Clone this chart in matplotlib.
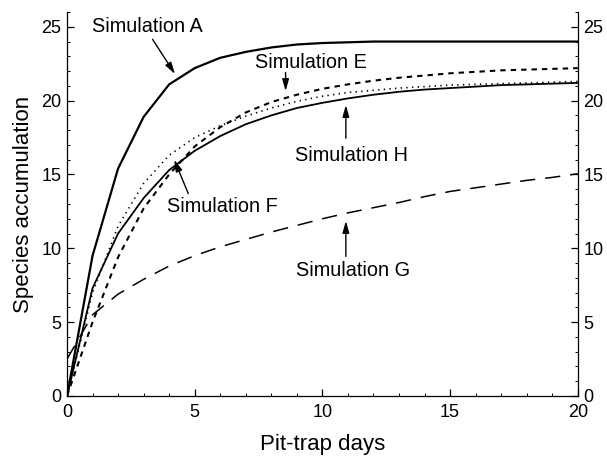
import numpy as np
import matplotlib
matplotlib.use("Agg")
import matplotlib.pyplot as plt
from matplotlib.ticker import MultipleLocator

## Data
days = list(range(0, 21))

sim_a = [0, 9.5, 15.4, 18.9, 21.1, 22.2, 22.9, 23.3, 23.6, 23.8, 23.9,
         23.95, 24.0, 24.0, 24.0, 24.0, 24.0, 24.0, 24.0, 24.0, 24.0]
sim_e = [0, 5.0, 9.4, 12.7, 15.0, 16.9, 18.2, 19.2, 19.9, 20.4, 20.8,
         21.1, 21.35, 21.55, 21.7, 21.85, 21.95, 22.05, 22.1, 22.15, 22.2]
sim_f = [0, 7.0, 11.5, 14.4, 16.3, 17.5, 18.3, 18.95, 19.5, 19.95, 20.3,
         20.55, 20.7, 20.85, 20.95, 21.05, 21.1, 21.15, 21.2, 21.25, 21.3]
sim_h = [0, 7.3, 11.0, 13.4, 15.3, 16.6, 17.6, 18.4, 19.0, 19.5, 19.85,
         20.15, 20.4, 20.6, 20.75, 20.85, 20.95, 21.05, 21.1, 21.15, 21.2]
sim_g = [2.5, 5.5, 6.9, 7.9, 8.8, 9.5, 10.1, 10.6, 11.1, 11.55, 12.0,
         12.4, 12.75, 13.1, 13.5, 13.85, 14.1, 14.35, 14.6, 14.8, 15.05]

# label text, text position, arrow tail, arrow tip (data coords)
labels = ["Simulation A", "Simulation E", "Simulation H", "Simulation F", "Simulation G"]
label_xy = [(3.15, 25.05), (9.55, 22.6), (11.15, 16.3), (6.1, 12.85), (11.2, 8.5)]
arrow_tail = [(3.35, 24.15), (8.56, 21.9), (10.92, 17.45), (4.75, 13.7), (10.92, 9.45)]
arrow_tip = [(4.23, 21.8), (8.56, 20.65), (10.92, 19.7), (4.2, 16.0), (10.92, 11.85)]

plt.rcParams['font.family'] = ['Liberation Sans', 'DejaVu Sans']

fig = plt.figure(figsize=(6.07, 4.57), dpi=100)
ax = fig.add_axes([0.1104, 0.1335, 0.8414, 0.8402])

ax.plot(days, sim_a, color="black", lw=1.6)
ax.plot(days, sim_h, color="black", lw=1.3)
ax.plot(days, sim_e, color="black", lw=1.5, dashes=(2.6, 2.4))
ax.plot(days, sim_f, color="black", lw=1.2, linestyle=(0, (0.8, 2.6)))
ax.plot(days, sim_g, color="black", lw=1.1, dashes=(10, 6.5))

for txt, xy, tail, tip in zip(labels, label_xy, arrow_tail, arrow_tip):
    ax.text(xy[0], xy[1], txt, ha="center", va="center", fontsize=14.3)
    ax.annotate("", xy=tip, xytext=tail,
                arrowprops=dict(arrowstyle="-|>,head_length=0.7,head_width=0.2",
                                color="black", lw=1.0, shrinkA=0, shrinkB=0))

ax.set_xlim(0, 20)
ax.set_ylim(0, 26)
ax.xaxis.set_major_locator(MultipleLocator(5))
ax.xaxis.set_minor_locator(MultipleLocator(1))
ax.yaxis.set_major_locator(MultipleLocator(5))
ax.yaxis.set_minor_locator(MultipleLocator(1))

ax.spines["top"].set_visible(False)
for s in ["left", "right", "bottom"]:
    ax.spines[s].set_linewidth(0.9)

tick_font = ['Liberation Sans Narrow', 'Liberation Sans']
ax.tick_params(which="both", direction="in", right=True, labelright=True, top=False)
ax.tick_params(which="major", length=5, width=0.9, pad=4, labelsize=13)
ax.tick_params(which="minor", length=2.5, width=0.7)
ax.tick_params(axis="x", pad=6)
for lab in ax.get_xticklabels() + ax.get_yticklabels():
    lab.set_fontfamily(tick_font)
for lab in ax.yaxis.get_ticklabels(which="major"):
    lab.set_fontfamily(tick_font)

ax.set_xlabel("Pit-trap days", fontsize=16, labelpad=9)
ax.set_ylabel("Species accumulation", fontsize=16, labelpad=5)

fig.savefig("out.png", dpi=100)
